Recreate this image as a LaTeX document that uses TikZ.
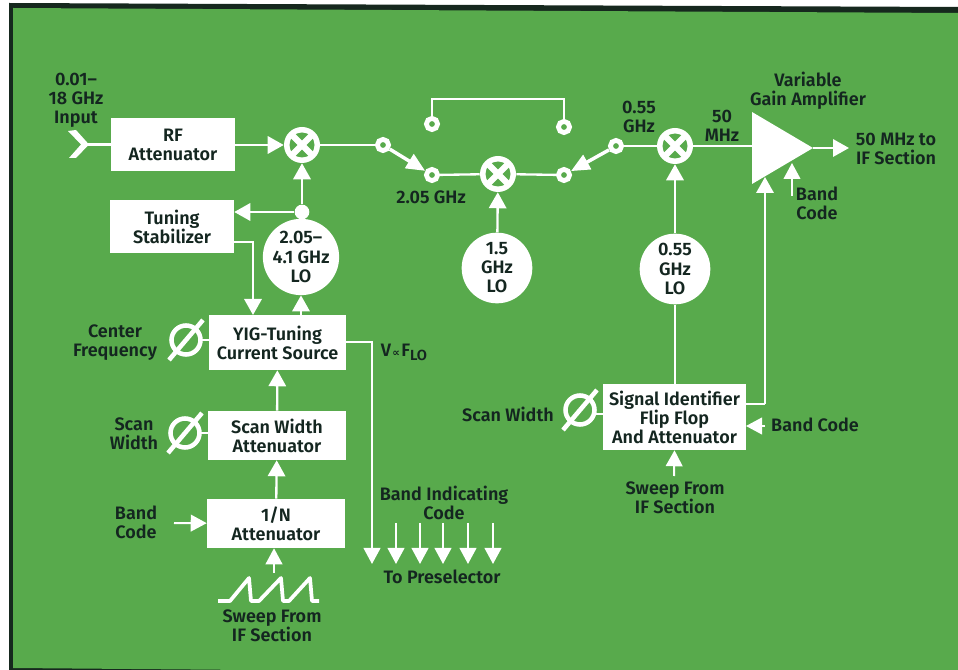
\documentclass[tikz,border=0pt]{standalone}
\usepackage{fontspec}
\setmainfont{Fira Sans}[BoldFont={Fira Sans SemiBold}]
\newfontfamily\symf{DejaVu Sans}
\usetikzlibrary{arrows.meta,calc}
\definecolor{bg}{RGB}{88,170,76}
\definecolor{ink}{RGB}{20,38,32}
\definecolor{edge}{RGB}{22,40,30}
\tikzset{
 x=0.75pt,y=-0.75pt,
 wire/.style={draw=white,line width=1.75pt},
 arr/.style={wire,-{Triangle[width=13pt,length=12pt,fill=white]}},
 smallarr/.style={wire,line width=1.5pt,-{Triangle[width=12.5pt,length=12pt,fill=white]}},
 swarr/.style={wire,line width=2.6pt,-{Triangle[width=12pt,length=14pt,fill=white]}},
 block/.style={fill=white,text=ink,inner sep=0pt,align=center,font=\lab},
 txt/.style={text=ink,inner sep=0pt,align=center,font=\lab},
 lo/.style={circle,fill=white,text=ink,inner sep=0pt,align=center,font=\lab,minimum size=53pt},
 mix/.style={circle,fill=white,minimum size=27pt,inner sep=0pt},
 term/.style={circle,draw=white,fill=bg,line width=3.6pt,minimum size=8.4pt,inner sep=0pt},
 dot/.style={circle,fill=white,minimum size=11pt,inner sep=0pt},
}
\newcommand{\lab}{\fontsize{13.5pt}{14.3pt}\selectfont\bfseries}
\newcommand{\blk}[6]{\node[block,minimum width=#4*0.75pt,minimum height=#5*0.75pt] (#1) at (#2,#3) {#6};}
\newcommand{\mixglyph}[1]{%
 \fill[bg] (#1) circle[radius=12.5];
 \draw[white,line width=4.6pt] ($(#1)+(-9.5,-9.5)$) -- ($(#1)+(9.5,9.5)$);
 \draw[white,line width=4.6pt] ($(#1)+(-9.5,9.5)$) -- ($(#1)+(9.5,-9.5)$);}
\newcommand{\phisym}[1]{%
 \draw[white,line width=3.4pt] (#1) circle[radius=14.5];
 \draw[white,line width=3.4pt] ($(#1)+(-17,20)$) -- ($(#1)+(17,-20)$);}
\begin{document}
\begin{tikzpicture}
\useasboundingbox (0,0) rectangle (958,670);
\fill[white] (0,0) rectangle (958,670);
\fill[edge] (9,3) -- (958,7) -- (958,670) -- (9,670) -- cycle;
\fill[bg] (13,8) -- (958,13) -- (958,670) -- (250,670) -- (13,668) -- cycle;
% mixers, LOs and blocks
\node[mix] (m1) at (302,145) {};
\node[mix] (m2) at (498,174) {};
\node[mix] (m3) at (675,146) {};
\node[lo] (lo1) at (301,257) {2.05–\\4.1 GHz\\LO};
\node[lo] (lo2) at (497,268) {1.5\\GHz\\LO};
\node[lo] (lo3) at (675,269) {0.55\\GHz\\LO};
\blk{rf}{173}{144.5}{124}{53}{RF\\Attenuator}
\blk{ts}{172}{226.5}{124}{53}{Tuning\\Stabilizer}
\blk{yig}{277.5}{342.5}{137}{55}{YIG-Tuning\\Current Source}
\blk{sw}{277}{435.5}{138}{49}{Scan Width\\Attenuator}
\blk{na}{276}{523.5}{138}{49}{1/N\\Attenuator}
\blk{sig}{674.5}{417}{143}{66}{Signal Identifier\\Flip Flop\\And Attenuator}
\node[dot] (j) at (302,212) {};
\mixglyph{m1}\mixglyph{m2}\mixglyph{m3}
% amplifier
\fill[white] (752,112) -- (813,148) -- (752,184) -- cycle;
\coordinate (amp) at (752,146);
\coordinate (ampout) at (813,148);
% input
\coordinate (in) at (88,144.5);
\fill[white] (68,131) -- (76,130) -- (89,144.5) -- (76,158) -- (69,158) -- (81,144.5) -- cycle;
\draw[wire] (in) -- (rf.west |- in);
% switches
\node[term] (s1) at (383,145) {};
\node[term] (s2) at (432,175) {};
\node[term] (s3) at (432,124) {};
\node[term] (s4) at (564,175) {};
\node[term] (s5) at (564,127) {};
\node[term] (s6) at (616,146) {};
% connectors
\draw[arr] (rf.east |- m1) -- (m1);
\draw[wire] (m1) -- (s1);
\draw[wire] (s2) -- (m2);
\draw[wire] (m2) -- (s4);
\draw[wire] (s6) -- (m3);
\draw[wire] (s3) -- (432,99) -- (564,99) -- (s5);
\draw[swarr] (s1) -- (s2);
\draw[swarr] (s6) -- (s4);
\draw[wire] (m3) -- (amp);
\draw[arr] (ampout) -- (849,148);
\draw[arr] (j) -- (m1);
\draw[wire] (lo1.north -| j) -- (j);
\draw[arr] (j) -- (j -| ts.east);
\draw[arr] (yig.north -| lo1) -- (lo1);
\draw[arr] (lo2) -- (m2);
\draw[arr] (lo3) -- (m3);
\draw[arr] (234,242) -- (253,242) -- (253,315);
\draw[arr] (sw) -- (yig);
\draw[arr] (na) -- (sw);
\coordinate (bc1) at (174,523);
\draw[smallarr] (bc1) -- (na);
\coordinate (sw1) at (274,573);
\draw[smallarr] (sw1) -- (na.south -| sw1);
% sweep
\draw[white,line width=2.8pt,line join=round] (218,601) -- (230,601) -- (249,578) -- (251,601) -- (259,601) -- (281,578) -- (283,601) -- (289,601) -- (310,578) -- (312,601) -- (319,601);
% YIG output
\draw[smallarr] (346,342) -- (372,342) -- (372,564);
\foreach \x in {396,420,443,468,493}{
 \draw[smallarr] (\x,523) -- (\x,564);}
% signal identifier
\draw[wire] (sig.north -| lo3) -- (lo3);
\draw[wire] (746,404) -- (765,404);
\draw[arr] (765,404) -- (765,177);
\coordinate (bca) at (792,196);
\draw[smallarr] (bca) -- (792,163);
\coordinate (bcs) at (765,426);
\draw[smallarr] (bcs) -- (746,426);
\coordinate (sws) at (674,476);
\draw[smallarr] (sws) -- (sig.south);
% controls
\coordinate (c1) at (186,340);
\coordinate (c2) at (185,433);
\coordinate (c3) at (580,410);
\phisym{c1}\phisym{c2}\phisym{c3}
\draw[wire] (201,340) -- (yig.west |- c1);
\draw[wire] (200,433) -- (sw.west |- c2);
\draw[wire] (595,414) -- (sig.west |- 595,414);
% labels
\node[txt] (t1) at (76,100) {0.01–\\18 GHz\\Input};
\node[txt] (t2) at (431,197) {2.05 GHz};
\node[txt] (t3) at (639,117) {0.55\\GHz};
\node[txt] (t4) at (722,126) {50\\MHz};
\node[txt] (t5) at (808,91) {Variable\\Gain Amplifier};
\node[txt] (t6) at (896,149) {50 MHz to\\IF Section};
\node[txt] (t7) at (817,203) {Band\\Code};
\node[txt] (t8) at (115,343) {Center\\Frequency};
\node[txt] (t9) at (134,434) {Scan\\Width};
\node[txt] (t10) at (136,522) {Band\\Code};
\node[txt] (t11) at (272,626) {Sweep From\\IF Section};
\node[txt] (t12) at (444,503) {Band Indicating\\Code};
\node[txt] (t13) at (442,577) {To Preselector};
\node[txt] (t14) at (404,352) {V\hspace{1pt}{\symf\fontsize{8pt}{8pt}\selectfont ∝}\hspace{1pt}F\raisebox{-0.4ex}{\fontsize{11pt}{11pt}\selectfont LO}};
\node[txt] (t15) at (508,414) {Scan Width};
\node[txt] (t16) at (815,425) {Band Code};
\node[txt] (t17) at (675,498) {Sweep From\\IF Section};
\end{tikzpicture}
\end{document}
